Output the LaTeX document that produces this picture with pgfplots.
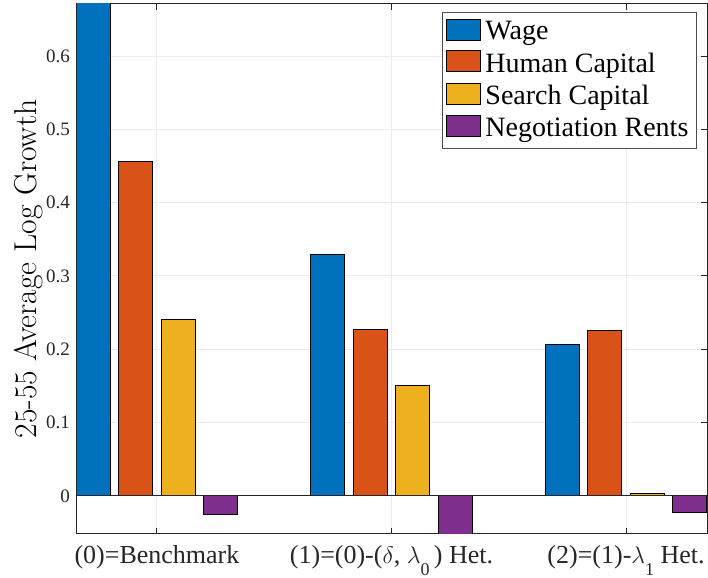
\documentclass[border=0pt]{standalone}
\usepackage{fontspec}
\newfontfamily\lmfont{Latin Modern Roman}
\setmainfont{Liberation Serif}
\usepackage{pgfplots}
\pgfplotsset{compat=1.18}

\definecolor{mwage}{rgb}{0,0.447,0.741}
\definecolor{mhum}{rgb}{0.850,0.325,0.098}
\definecolor{msrch}{rgb}{0.929,0.694,0.125}
\definecolor{mneg}{rgb}{0.494,0.184,0.556}
\definecolor{axgray}{rgb}{0.15,0.15,0.15}

\pgfplotsset{
  matbar/.style={
    fill=#1, draw=black, line width=0.5pt,
    legend image code/.code={\draw[fill=#1, draw=black, line width=0.5pt] (0pt,-4pt) rectangle (17pt,6.5pt);}
  }
}
\newcommand{\msub}[1]{\raisebox{-6pt}{\fontsize{9}{10}\selectfont #1}}

\begin{document}
\begin{tikzpicture}
  \begin{axis}[
      scale only axis,
      width=315pt, height=265pt,
      xmin=-0.341, xmax=2.345,
      ymin=-0.052, ymax=0.671,
      ybar, bar width=0.145,
      xtick={0,1,2},
      xticklabels={(0)=Benchmark, {(1)=(0)-($\delta$, $\lambda$\msub{0}\,) Het.}, (2)=(1)-$\lambda$\msub{1} Het.},
      ytick={0,0.1,0.2,0.3,0.4,0.5,0.6},
      tick align=inside,
      major tick length=3pt,
      tick style={axgray, line width=0.5pt},
      grid=major,
      grid style={black!8, line width=0.5pt},
      axis line style={axgray, line width=0.5pt},
      /pgf/number format/assume math mode=true,
      yticklabel style={font=\fontsize{9.5}{11}\selectfont, black!85},
      xticklabel style={font=\fontsize{13}{15}\selectfont, black!85, yshift=-2pt},
      ylabel={\lmfont 25-55 Average Log Growth},
      ylabel style={font=\fontsize{15.8}{18}\selectfont, yshift=-5pt},
      legend style={at={(0.984,0.985)}, anchor=north east,
        font=\fontsize{14}{16}\selectfont, draw=black!70, line width=0.5pt,
        inner xsep=2pt, inner ysep=2.5pt, row sep=1pt},
      legend cell align=left,
    ]

    \addplot[matbar=mwage, bar shift=-0.271] coordinates {(0,0.68) (1,0.329) (2,0.207)};
    \addplot[matbar=mhum, bar shift=-0.0905] coordinates {(0,0.4555) (1,0.2265) (2,0.226)};
    \addplot[matbar=msrch, bar shift=0.0905] coordinates {(0,0.240) (1,0.150) (2,0.003)};
    \addplot[matbar=mneg, bar shift=0.271] coordinates {(0,-0.026) (1,-0.060) (2,-0.023)};
    \legend{Wage, Human Capital, Search Capital, Negotiation Rents}

    \draw[axgray, line width=0.6pt] (axis cs:-0.341,0) -- (axis cs:2.345,0);
  \end{axis}
  \pgfresetboundingbox
  \path ([xshift=-38.5pt,yshift=-22pt]current axis.south west) rectangle ([xshift=0.5pt,yshift=2pt]current axis.north east);
\end{tikzpicture}
\end{document}
